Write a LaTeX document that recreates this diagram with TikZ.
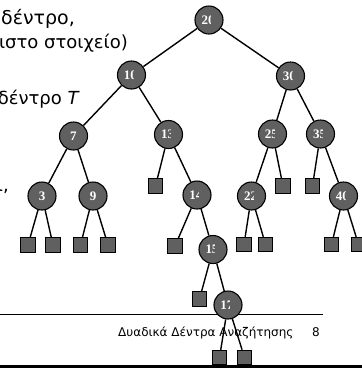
\documentclass[tikz,border=0pt]{standalone}
\usepackage{fontspec}
\setmainfont{DejaVu Sans}
\newfontfamily\keyfont{Liberation Serif}
\definecolor{nodefill}{RGB}{96,96,96}
\begin{document}
\begin{tikzpicture}[x=1pt,y=-1pt,
  keytext/.style={font=\keyfont\bfseries\fontsize{13}{13}\selectfont, text=white, inner sep=0pt},
  vertex/.style={circle, draw=black, line width=1.1pt, fill=nodefill, minimum size=28pt, inner sep=0pt},
  key/.style={vertex,
    path picture={\clip ([xshift=-20pt]path picture bounding box.north) rectangle ([xshift=2pt]path picture bounding box.south);
      \node[keytext] at ([xshift=-1pt]path picture bounding box.center) {#1};}},
  digit/.style={vertex, keytext},
  ext/.style={rectangle, draw=black, line width=0.9pt, fill=nodefill, minimum size=14.5pt, inner sep=0pt},
  link/.style={line width=1.4pt},
  body/.style={font=\fontsize{18}{18}\selectfont, inner sep=0pt, anchor=base east},
  foot/.style={font=\fontsize{12}{12}\selectfont, inner sep=0pt, anchor=base west}
]
\useasboundingbox (0,0) rectangle (362,368);

% slide text and rules
\node[body, font=\fontsize{19}{19}\selectfont] (t1) at (75,24) {δέντρο,};
\node[body] (t2) at (128,48) {ιστο στοιχείο)};
\node[body] (t3) at (80,104) {δέντρο \textit{T}};
\node[body] (t4) at (9,191) {ι,};
\coordinate (ruleL) at (0,314);
\coordinate (ruleR) at (323,314);
\draw[line width=0.8pt] (ruleL) -- (ruleR);
\node[foot] (title) at (118,336) {Δυαδικά Δέντρα Αναζήτησης};
\node[foot] (page) at (312,336) {8};
\coordinate (baseL) at (0,366.5);
\coordinate (baseR) at (362,366.5);
\draw[line width=3pt] (baseL) -- (baseR);

% internal nodes
\node[key=20] (n20) at (209,20) {};
\node[key=10] (n10) at (131.5,75) {};
\node[key=30] (n30) at (290.5,76) {};
\node[digit] (n7) at (73.5,136) {7};
\node[key=13] (n13) at (168.5,134.5) {};
\node[key=25] (n25) at (272.5,134) {};
\node[key=35] (n35) at (320.5,134) {};
\node[digit] (n3) at (42,196) {3};
\node[digit] (n9) at (93,196) {9};
\node[key=14] (n14) at (197,195) {};
\node[key=22] (n22) at (251.5,196) {};
\node[key=40] (n40) at (343.5,196) {};
\node[key=15] (n15) at (213,249.5) {};
\node[key=17] (n17) at (228,305) {};

% external (null) nodes
\node[ext] (e13) at (155.5,186) {};
\node[ext] (e25) at (283,186) {};
\node[ext] (e35) at (312.5,186) {};
\node[ext] (e3a) at (28,245) {};
\node[ext] (e3b) at (53,245) {};
\node[ext] (e9a) at (80.5,245) {};
\node[ext] (e9b) at (108,245) {};
\node[ext] (e14) at (175,246) {};
\node[ext] (e22a) at (244,244.5) {};
\node[ext] (e22b) at (265.5,244.5) {};
\node[ext] (e40a) at (331.5,244.5) {};
\node[ext] (e40b) at (358.5,244.5) {};
\node[ext] (e15) at (199.5,299) {};
\node[ext] (e17a) at (219.5,357.5) {};
\node[ext] (e17b) at (244.5,357.5) {};

% tree edges
\draw[link] (n20) -- (n10);
\draw[link] (n20) -- (n30);
\draw[link] (n10) -- (n7);
\draw[link] (n10) -- (n13);
\draw[link] (n30) -- (n25);
\draw[link] (n30) -- (n35);
\draw[link] (n7) -- (n3);
\draw[link] (n7) -- (n9);
\draw[link] (n13) -- (e13);
\draw[link] (n13) -- (n14);
\draw[link] (n25) -- (n22);
\draw[link] (n25) -- (e25);
\draw[link] (n35) -- (e35);
\draw[link] (n35) -- (n40);
\draw[link] (n3) -- (e3a);
\draw[link] (n3) -- (e3b);
\draw[link] (n9) -- (e9a);
\draw[link] (n9) -- (e9b);
\draw[link] (n14) -- (e14);
\draw[link] (n14) -- (n15);
\draw[link] (n22) -- (e22a);
\draw[link] (n22) -- (e22b);
\draw[link] (n40) -- (e40a);
\draw[link] (n40) -- (e40b);
\draw[link] (n15) -- (e15);
\draw[link] (n15) -- (n17);
\draw[link] (n17) -- (e17a);
\draw[link] (n17) -- (e17b);
\end{tikzpicture}
\end{document}
